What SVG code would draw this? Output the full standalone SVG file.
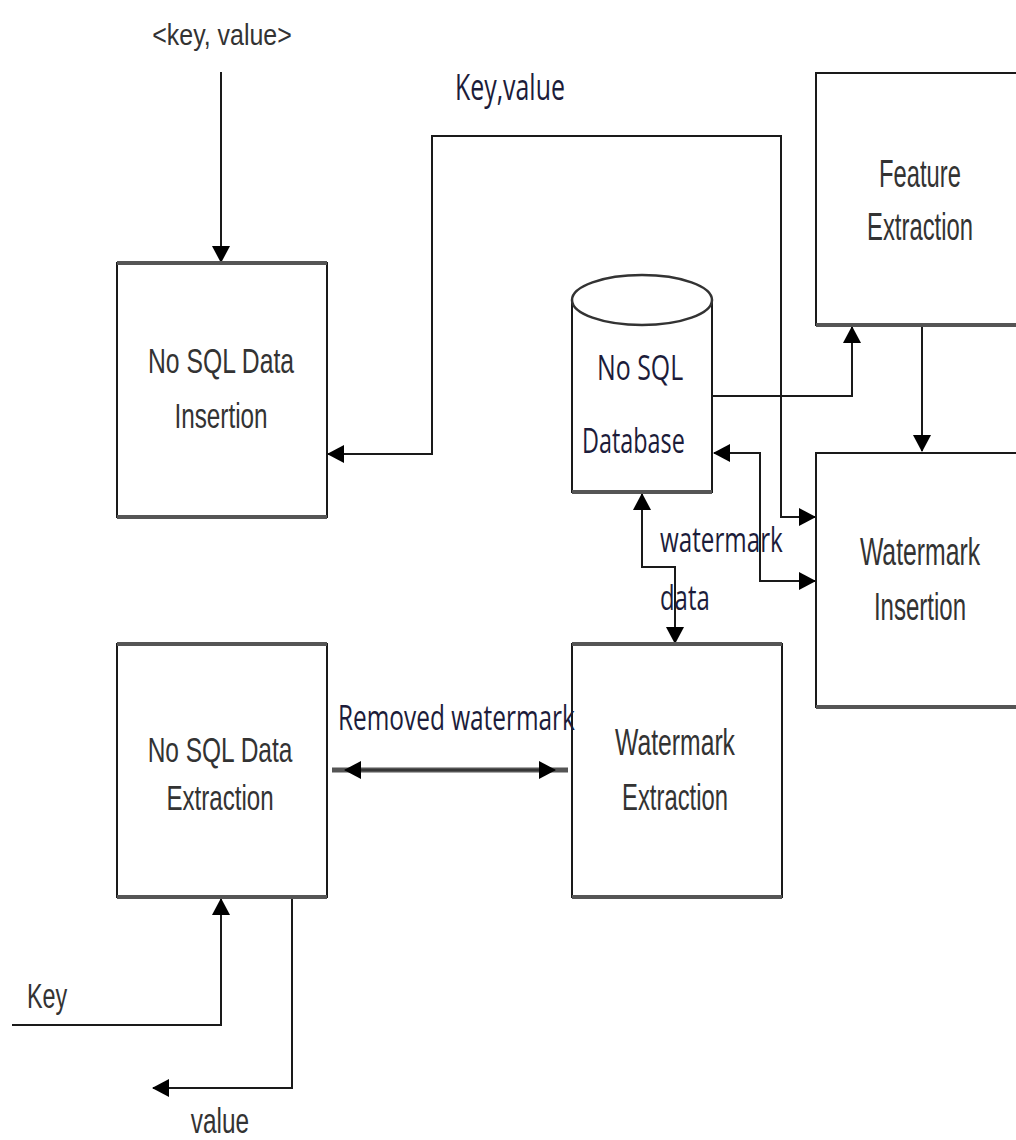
<svg xmlns="http://www.w3.org/2000/svg" width="1016" height="1140" viewBox="0 0 1016 1140">
<style>
.box{fill:#fff;stroke:#1a1a1a;stroke-width:2}
.edge{stroke:#555;stroke-width:4}
.t{font-family:"Liberation Sans",Arial,sans-serif;fill:#333;text-anchor:middle}
.s{font-family:"Liberation Sans",Arial,sans-serif;fill:#333}
.c{font-family:"Open Sans","Liberation Sans",sans-serif;fill:#1c1c3a}
.ln{fill:none;stroke:#1a1a1a;stroke-width:2}
.thick{fill:none;stroke:#555;stroke-width:5}
</style>
<defs>
<marker id="ah" markerUnits="userSpaceOnUse" markerWidth="18" markerHeight="18" refX="16" refY="9" orient="auto-start-reverse" viewBox="0 0 18 18">
<path d="M0,0 L17,9 L0,18 Z" fill="#000"/>
</marker>
</defs>
<rect width="1016" height="1140" fill="#fff"/>

<g id="connectors">
<line class="ln" x1="221" y1="72" x2="221" y2="262" marker-end="url(#ah)"/>
<path class="ln" d="M328,454 H432 V136 H781 V517 H815" marker-start="url(#ah)" marker-end="url(#ah)"/>
<path class="ln" d="M712,396 H852 V327" marker-end="url(#ah)"/>
<line class="ln" x1="922" y1="325" x2="922" y2="451" marker-end="url(#ah)"/>
<path class="ln" d="M714,453 H760 V581 H815" marker-start="url(#ah)" marker-end="url(#ah)"/>
<path class="ln" d="M642,494 V567 H675 V643" marker-start="url(#ah)" marker-end="url(#ah)"/>
<line class="thick" x1="332" y1="770" x2="568" y2="770"/>
<line class="ln" x1="345" y1="770" x2="555" y2="770" marker-start="url(#ah)" marker-end="url(#ah)" style="stroke-width:1"/>
<path class="ln" d="M12,1025 H221 V899" marker-end="url(#ah)"/>
<path class="ln" d="M292,897 V1088 H153" marker-end="url(#ah)"/>
</g>

<g id="n-insertion">
<rect class="box" x="117" y="263" width="210" height="254"/>
<line class="edge" x1="117" y1="263" x2="327" y2="263"/>
<line class="edge" x1="117" y1="517" x2="327" y2="517"/>
<text class="t" transform="translate(221,373) scale(0.67,1)" font-size="36" textLength="218" lengthAdjust="spacingAndGlyphs">No SQL Data</text>
<text class="t" transform="translate(221,428) scale(0.67,1)" font-size="36" textLength="139" lengthAdjust="spacingAndGlyphs">Insertion</text>
</g>

<g id="n-extraction">
<rect class="box" x="117" y="644" width="210" height="253"/>
<line class="edge" x1="117" y1="644" x2="327" y2="644"/>
<line class="edge" x1="117" y1="897" x2="327" y2="897"/>
<text class="t" transform="translate(220,762) scale(0.67,1)" font-size="36" textLength="216" lengthAdjust="spacingAndGlyphs">No SQL Data</text>
<text class="t" transform="translate(220,810) scale(0.67,1)" font-size="36" textLength="160" lengthAdjust="spacingAndGlyphs">Extraction</text>
</g>

<g id="n-wm-extraction">
<rect class="box" x="572" y="644" width="210" height="253"/>
<line class="edge" x1="572" y1="644" x2="782" y2="644"/>
<line class="edge" x1="572" y1="897" x2="782" y2="897"/>
<text class="t" transform="translate(675,755) scale(0.67,1)" font-size="37" textLength="179" lengthAdjust="spacingAndGlyphs">Watermark</text>
<text class="t" transform="translate(675,810) scale(0.67,1)" font-size="37" textLength="158" lengthAdjust="spacingAndGlyphs">Extraction</text>
</g>

<g id="n-feature">
<path class="box" d="M1016,73 H816 V325 H1016"/>
<line class="edge" x1="816" y1="325" x2="1016" y2="325"/>
<text class="t" transform="translate(920,187) scale(0.62,1)" font-size="38" textLength="132" lengthAdjust="spacingAndGlyphs">Feature</text>
<text class="t" transform="translate(920,240) scale(0.62,1)" font-size="38" textLength="171" lengthAdjust="spacingAndGlyphs">Extraction</text>
</g>

<g id="n-wm-insertion">
<path class="box" d="M1016,453 H816 V707 H1016"/>
<line class="edge" x1="816" y1="707" x2="1016" y2="707"/>
<text class="t" transform="translate(920,565) scale(0.65,1)" font-size="38" textLength="185" lengthAdjust="spacingAndGlyphs">Watermark</text>
<text class="t" transform="translate(920,620) scale(0.64,1)" font-size="38" textLength="144" lengthAdjust="spacingAndGlyphs">Insertion</text>
</g>

<g id="n-database">
<path d="M572,300 V492 H712 V300" fill="#fff" stroke="#1a1a1a" stroke-width="2"/>
<line class="edge" x1="572" y1="492" x2="712" y2="492"/>
<ellipse cx="642" cy="300" rx="70" ry="25" fill="#fff" stroke="#333" stroke-width="2.5"/>
<text class="c" transform="translate(597,380) scale(0.73,1)" font-size="34" textLength="118" lengthAdjust="spacingAndGlyphs" fill="#333">No SQL</text>
<text class="c" transform="translate(582,453) scale(0.69,1)" font-size="34" textLength="149" lengthAdjust="spacingAndGlyphs">Database</text>
</g>

<g id="labels">
<text class="t" transform="translate(222,45) scale(0.82,1)" font-size="30" textLength="170" lengthAdjust="spacingAndGlyphs">&lt;key, value&gt;</text>
<text class="c" transform="translate(455,100) scale(0.7,1)" font-size="36" textLength="157" lengthAdjust="spacingAndGlyphs">Key,value</text>
<text class="c" transform="translate(660,552) scale(0.71,1)" font-size="34" textLength="173" lengthAdjust="spacingAndGlyphs">watermark</text>
<text class="c" transform="translate(660,610) scale(0.7,1)" font-size="34" textLength="71" lengthAdjust="spacingAndGlyphs">data</text>
<text class="c" transform="translate(338,730) scale(0.72,1)" font-size="34" textLength="329" lengthAdjust="spacingAndGlyphs">Removed watermark</text>
<text class="s" transform="translate(27,1008) scale(0.65,1)" font-size="36" textLength="62" lengthAdjust="spacingAndGlyphs">Key</text>
<text class="t" transform="translate(220,1133) scale(0.67,1)" font-size="36" textLength="87" lengthAdjust="spacingAndGlyphs">value</text>
</g>
</svg>
